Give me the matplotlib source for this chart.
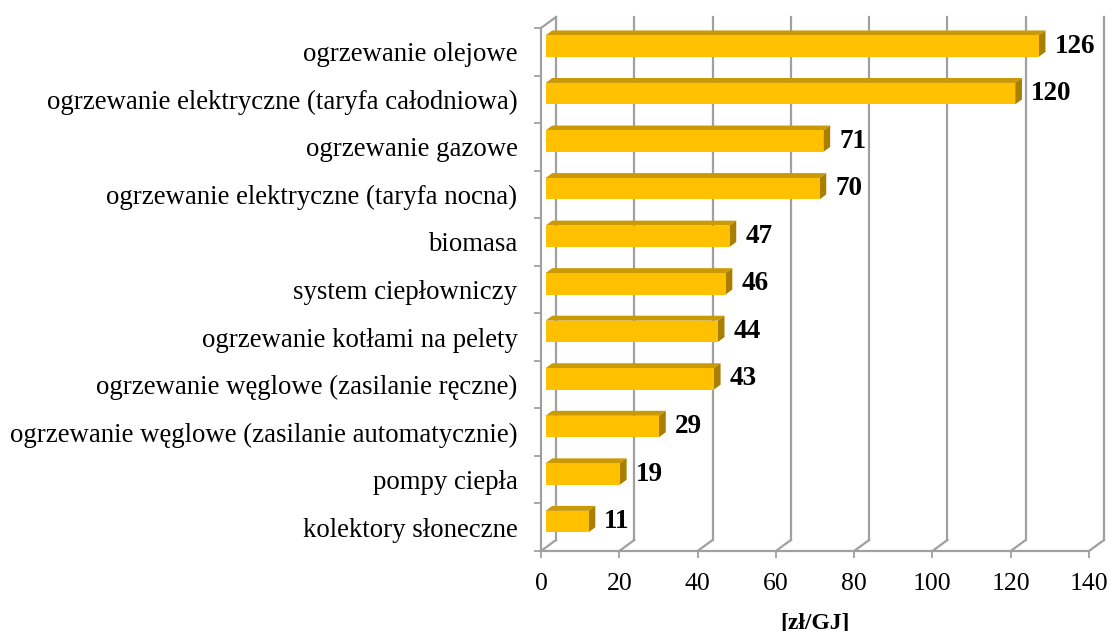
import numpy as np
import matplotlib.pyplot as plt
from matplotlib.patches import Polygon

# ============================================================================
# DATA
# ============================================================================
categories = [
    'kolektory słoneczne',
    'pompy ciepła',
    'ogrzewanie węglowe (zasilanie automatycznie)',
    'ogrzewanie węglowe (zasilanie ręczne)',
    'ogrzewanie kotłami na pelety',
    'system ciepłowniczy',
    'biomasa',
    'ogrzewanie elektryczne (taryfa nocna)',
    'ogrzewanie gazowe',
    'ogrzewanie elektryczne (taryfa całodniowa)',
    'ogrzewanie olejowe',
]
values = [11, 19, 29, 43, 44, 46, 47, 70, 71, 120, 126]
x_ticks = [0, 20, 40, 60, 80, 100, 120, 140]
xlabel = '[zł/GJ]'

# ============================================================================
# STYLE
# ============================================================================
plt.rcParams['font.family'] = ['Liberation Serif', 'DejaVu Serif']
grid_col = '#A0A0A0'
front_col = '#FFC000'
top_col = '#C99A06'
side_col = '#A87F00'

W, H = 1111, 631
fig = plt.figure(figsize=(W / 100, H / 100), dpi=100)
ax = fig.add_axes([541 / W, (H - 551) / H, 548 / W, 523 / H])

n = len(categories)
ax.set_xlim(0, 140)
ax.set_ylim(0, n)

# fake 3D depth (in data units)
px_x = 548 / 140
px_y = 523 / n
DX = 15 / px_x
DY = 11 / px_y

# back wall gridlines + floor diagonals
for xt in x_ticks:
    ax.plot([xt + DX, xt + DX], [DY, n + DY], color=grid_col, lw=1.6,
            clip_on=False, zorder=1)
    ax.plot([xt, xt + DX], [0, DY], color=grid_col, lw=1.6,
            clip_on=False, zorder=1)
# left wall top edge
ax.plot([0, DX], [n, n + DY], color=grid_col, lw=1.6, clip_on=False, zorder=1)

# bars with 3D faces
a, b = 0.3, 0.75
bh = 0.45
for i, v in enumerate(values):
    yc = i + 0.5 + 0.05
    x0 = a * DX
    y0 = yc - bh / 2 + a * DY
    y1 = yc + bh / 2 + a * DY
    ddx = (b - a) * DX
    ddy = (b - a) * DY
    x1 = v + a * DX
    ax.add_patch(Polygon([[x0, y1], [x1, y1], [x1 + ddx, y1 + ddy], [x0 + ddx, y1 + ddy]],
                         closed=True, fc=top_col, ec='none', zorder=3))
    ax.add_patch(Polygon([[x1, y0], [x1 + ddx, y0 + ddy], [x1 + ddx, y1 + ddy], [x1, y1]],
                         closed=True, fc=side_col, ec='none', zorder=3))
    ax.add_patch(Polygon([[x0, y0], [x1, y0], [x1, y1], [x0, y1]],
                         closed=True, fc=front_col, ec='none', zorder=4))
    ax.text(x1 + ddx + 9 / px_x, yc + a * DY, str(v), fontsize=19.5,
            fontweight='bold', ha='left', va='center', zorder=5, clip_on=False)

# spines
for s in ['top', 'right']:
    ax.spines[s].set_visible(False)
for s in ['left', 'bottom']:
    ax.spines[s].set_color(grid_col)
    ax.spines[s].set_linewidth(1.6)

# y axis: boundary ticks + centred category labels
ax.set_yticks(np.arange(0, n + 1))
ax.set_yticklabels([])
ax.set_yticks(np.arange(n) + 0.5, minor=True)
ax.set_yticklabels(categories, minor=True, fontsize=19.3)
ax.tick_params(axis='y', which='major', length=5, width=1.3, color=grid_col)
ax.tick_params(axis='y', which='minor', length=0, pad=17)

# x axis
ax.set_xticks(x_ticks)
ax.set_xticklabels([str(t) for t in x_ticks], fontsize=18.5)
ax.tick_params(axis='x', length=5, width=1.3, color=grid_col, pad=11)

fig.text(815 / W, (H - 612) / H, xlabel, fontsize=17, fontweight='bold',
         ha='center', va='top')

plt.savefig('out.png', dpi=100)
